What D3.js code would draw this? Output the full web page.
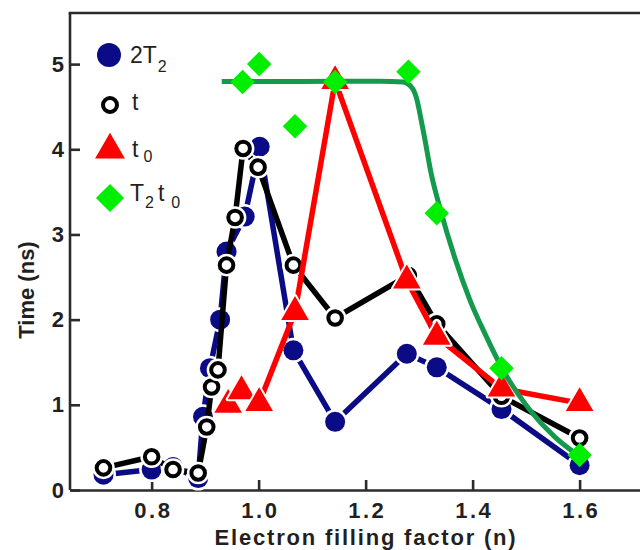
<!DOCTYPE html>
<html>
<head>
<meta charset="utf-8">
<script src="https://cdn.jsdelivr.net/npm/d3@7"></script>
<style>
  html, body { margin: 0; padding: 0; background: #fff; }
  svg { display: block; font-family: "Liberation Sans", Arial, sans-serif; }
</style>
</head>
<body>
<svg id="chart" width="640" height="550"></svg>
<script>
// ---------------- data ----------------
const xTicks = [0.8, 1.0, 1.2, 1.4, 1.6];
const yTicks = [0, 1, 2, 3, 4, 5];
const xTitle = "Electron filling factor (n)";
const yTitle = "Time (ns)";

// 2T2 (filled navy circles)
const nT2 = [0.710, 0.800, 0.840, 0.887, 0.896, 0.909, 0.928, 0.940, 0.974, 1.002, 1.065, 1.143, 1.277, 1.333, 1.454, 1.600];
const vT2 = [0.18, 0.24, 0.27, 0.14, 0.86, 1.43, 2.00, 2.80, 3.21, 4.03, 1.64, 0.80, 1.60, 1.44, 0.95, 0.29];

// t (open circles)
const nT = [0.710, 0.800, 0.840, 0.887, 0.903, 0.912, 0.924, 0.940, 0.956, 0.971, 0.999, 1.065, 1.143, 1.280, 1.333, 1.454, 1.600];
const vT = [0.26, 0.39, 0.24, 0.20, 0.74, 1.21, 1.41, 2.64, 3.20, 4.01, 3.79, 2.64, 2.02, 2.52, 1.95, 1.10, 0.61];

// t0 (red triangles)
const nT0 = [0.943, 0.968, 1.001, 1.068, 1.143, 1.277, 1.333, 1.454, 1.600];
const vT0 = [1.00, 1.16, 1.02, 2.09, 4.80, 2.46, 1.80, 1.19, 1.02];

// T2t0 (green diamonds)
const nT2t0 = [0.970, 1.001, 1.068, 1.143, 1.280, 1.333, 1.454, 1.600];
const vT2t0 = [4.79, 5.00, 4.27, 4.79, 4.91, 3.25, 1.43, 0.41];

// fitted curve for T2t0
const fitN = [0.931, 1.077, 1.227, 1.270, 1.287, 1.296, 1.303, 1.311, 1.322, 1.339, 1.367, 1.395, 1.425, 1.455, 1.507, 1.554, 1.601];
const fitV = [4.795, 4.795, 4.80, 4.79, 4.72, 4.58, 4.37, 4.11, 3.73, 3.31, 2.72, 2.23, 1.81, 1.43, 0.94, 0.62, 0.39];

const legendNames = ["2T2", "t", "t0", "T2t0"];

// ---------------- layout ----------------
const svg = d3.select("#chart");
const L = 70, R = 640, T = 13, B = 490;
const x = d3.scaleLinear().domain([0.6474, 1.7129]).range([L, R]);
const y = d3.scaleLinear().domain([0, 5.6]).range([B, T]);

const navy = "#0b0b85", red = "#ff0000", lime = "#00ee00", fitGreen = "#139a4c";
const axisCol = "#2b2b2b", textCol = "#231f20";

const zip = (a, b) => a.map((v, i) => [v, b[i]]);
const line = d3.line().x(d => x(d[0])).y(d => y(d[1]));

// ---------------- axes ----------------
const gx = svg.append("g").attr("transform", `translate(0,${B})`)
  .call(d3.axisBottom(x).tickValues(xTicks).tickFormat(d3.format(".1f"))
        .tickSizeInner(-10).tickSizeOuter(0).tickPadding(12));
const gy = svg.append("g").attr("transform", `translate(${L},0)`)
  .call(d3.axisLeft(y).tickValues(yTicks).tickFormat(d3.format("d"))
        .tickSizeInner(-10).tickSizeOuter(0).tickPadding(6));
[gx, gy].forEach(g => {
  g.select(".domain").attr("stroke", axisCol).attr("stroke-width", 2.6);
  g.selectAll(".tick line").attr("stroke", axisCol).attr("stroke-width", 2.6);
  g.selectAll(".tick text").attr("fill", textCol).attr("font-size", 22)
    .attr("font-weight", "bold").attr("font-family", '"Liberation Sans", Arial, sans-serif');
});
gx.selectAll(".tick text").attr("letter-spacing", 2.5).attr("dx", 1.2);
// top frame
svg.append("line").attr("x1", L - 1.3).attr("x2", R).attr("y1", T).attr("y2", T)
  .attr("stroke", axisCol).attr("stroke-width", 2.6);
gy.select(".domain").attr("d", `M0,${T}V${B}`);

// titles
svg.append("text").attr("x", 366).attr("y", 545).attr("text-anchor", "middle")
  .attr("font-size", 22).attr("font-weight", "bold").attr("fill", textCol)
  .attr("letter-spacing", 1.8).text(xTitle);
svg.append("text").attr("transform", `translate(34,290) rotate(-90)`).attr("text-anchor", "middle")
  .attr("font-size", 22).attr("font-weight", "bold").attr("fill", textCol).text(yTitle);

// ---------------- marker helpers ----------------
const triPath = d3.symbol(d3.symbolTriangle, 330)();
const diaPath = d3.symbol(d3.symbolSquare, 300)();

function blueMarker(g, cx, cy, r) {
  g.append("circle").attr("cx", cx).attr("cy", cy).attr("r", r + 2.5).attr("fill", "#fff");
  g.append("circle").attr("cx", cx).attr("cy", cy).attr("r", r).attr("fill", navy);
}
function openMarker(g, cx, cy, r) {
  g.append("circle").attr("cx", cx).attr("cy", cy).attr("r", r + 4.5).attr("fill", "#fff");
  g.append("circle").attr("cx", cx).attr("cy", cy).attr("r", r).attr("fill", "#fff")
    .attr("stroke", "#000").attr("stroke-width", 4);
}
function triMarker(g, cx, cy, s) {
  g.append("path").attr("d", triPath).attr("transform", `translate(${cx},${cy}) scale(${s})`)
    .attr("fill", "#fff").attr("stroke", "#fff").attr("stroke-width", 4).attr("stroke-linejoin", "round");
  g.append("path").attr("d", triPath).attr("transform", `translate(${cx},${cy}) scale(${s})`)
    .attr("fill", red);
}
function diaMarker(g, cx, cy, s) {
  g.append("path").attr("d", diaPath).attr("transform", `translate(${cx},${cy}) rotate(45) scale(${s})`)
    .attr("fill", lime);
}

// ---------------- series ----------------
const dT2 = zip(nT2, vT2), dT = zip(nT, vT), dT0 = zip(nT0, vT0), dD = zip(nT2t0, vT2t0), dFit = zip(fitN, fitV);

// 2T2
const g1 = svg.append("g");
g1.append("path").attr("d", line(dT2)).attr("fill", "none").attr("stroke", navy).attr("stroke-width", 5.5);
dT2.forEach(d => blueMarker(g1, x(d[0]), y(d[1]), 10));

// t
const g2 = svg.append("g");
g2.append("path").attr("d", line(dT)).attr("fill", "none").attr("stroke", "#000").attr("stroke-width", 5.5);
dT.forEach(d => openMarker(g2, x(d[0]), y(d[1]), 6.8));

// t0
const g3 = svg.append("g");
g3.append("path").attr("d", line(dT0)).attr("fill", "none").attr("stroke", red).attr("stroke-width", 5.5);
dT0.forEach(d => triMarker(g3, x(d[0]), y(d[1]), 1));

// fit curve
svg.append("path").attr("d", d3.line().x(d => x(d[0])).y(d => y(d[1])).curve(d3.curveMonotoneX)(dFit))
  .attr("fill", "none").attr("stroke", fitGreen).attr("stroke-width", 5).attr("stroke-linecap", "butt");

// T2t0 diamonds
const g4 = svg.append("g");
dD.forEach(d => diaMarker(g4, x(d[0]), y(d[1]), 1));

// ---------------- legend ----------------
const lg = svg.append("g");
const rowsY = [55, 103, 148, 198];
blueMarker(lg, 109, rowsY[0], 12);
openMarker(lg, 110, rowsY[1] + 2, 7);
triMarker(lg, 110, rowsY[2] + 2, 1.08);
diaMarker(lg, 110, rowsY[3], 1.15);

function legendText(yb, parts) {
  const t = lg.append("text").attr("x", 130).attr("y", yb).attr("font-size", 23).attr("fill", textCol);
  parts.forEach(p => {
    t.append("tspan").attr("dx", p.dx || 0).attr("dy", p.dy || 0)
      .attr("font-size", p.sub ? 16 : 23).text(p.s);
  });
}
legendText(63, [{s: "2T"}, {s: "2", sub: true, dx: 1, dy: 9}]);
legendText(110, [{s: legendNames[1], dx: 2}]);
legendText(157, [{s: "t", dx: 2}, {s: "0", sub: true, dx: 5, dy: 5}]);
legendText(201, [{s: "T"}, {s: "2", sub: true, dx: 1, dy: 7}, {s: "t", dx: 4, dy: -7}, {s: "0", sub: true, dx: 7, dy: 7}]);
</script>
</body>
</html>
